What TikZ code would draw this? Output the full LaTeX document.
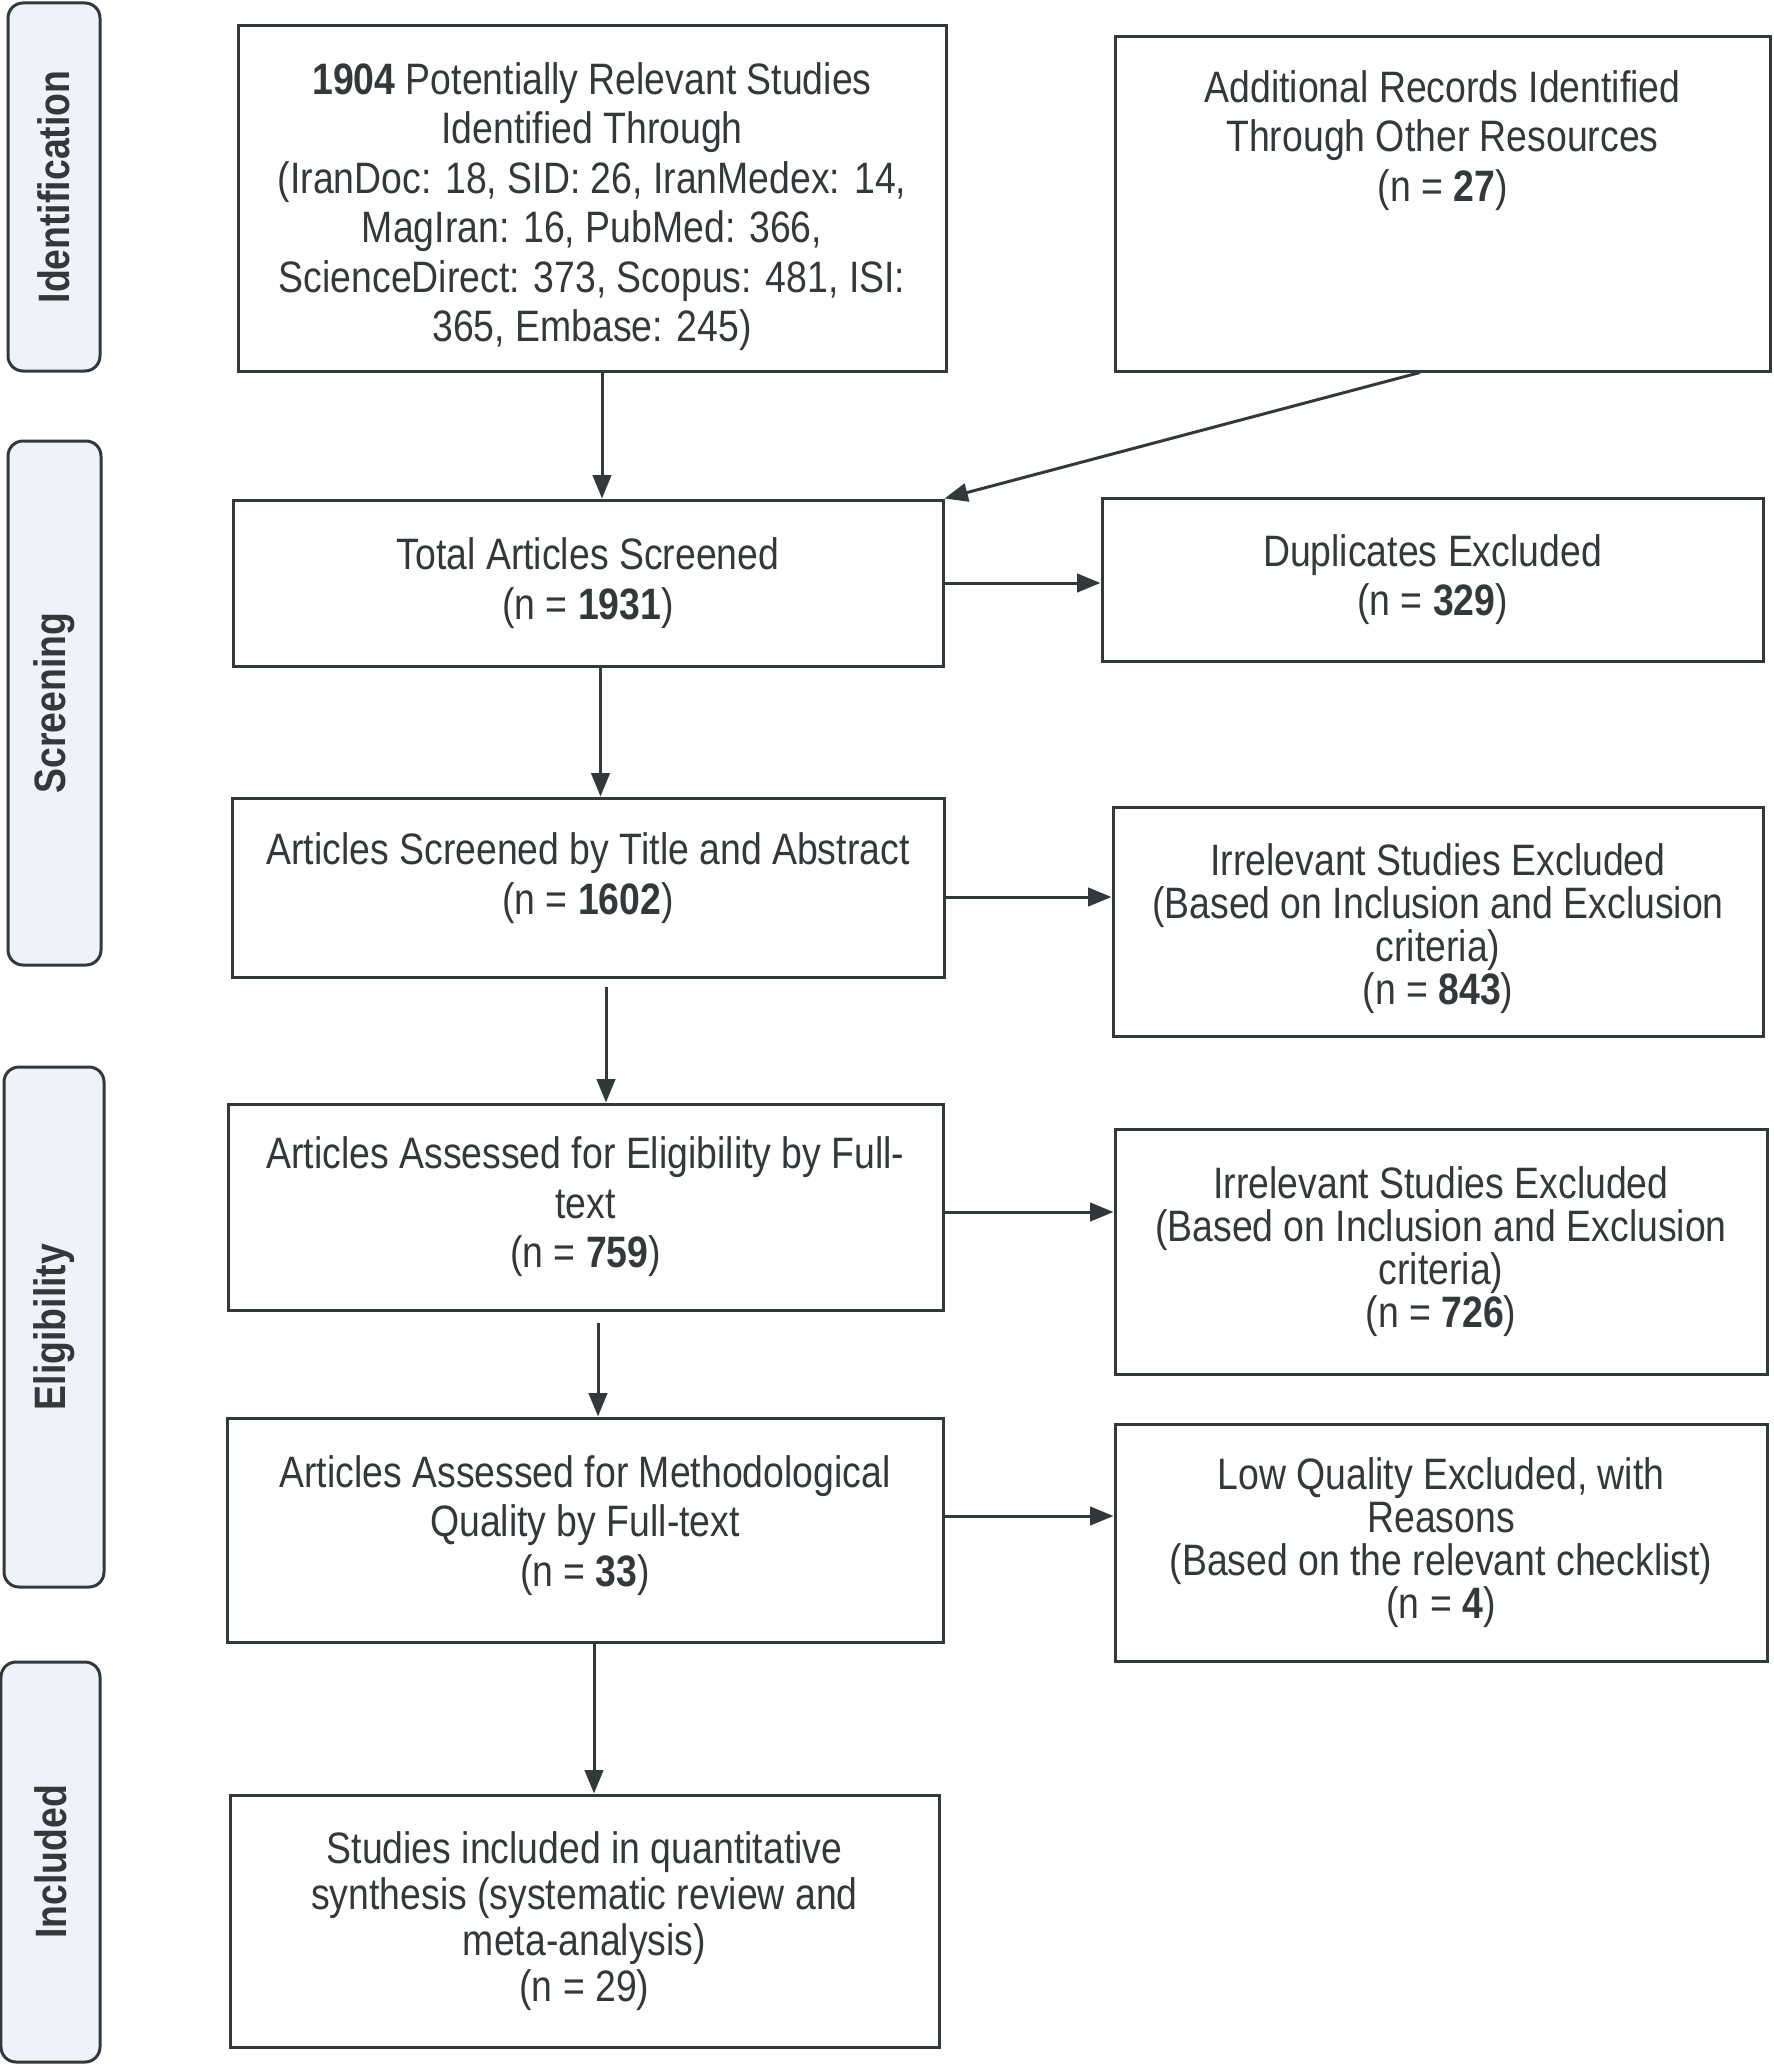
\documentclass[tikz,border=0pt]{standalone}
\usepackage{fontspec}
\setmainfont{Liberation Sans}[FakeStretch=0.85]
\usetikzlibrary{arrows.meta, positioning}
\definecolor{ink}{RGB}{51,56,58}
\definecolor{paleblue}{RGB}{238,243,250}

\tikzset{
  wh/.style 2 args={minimum width=#1*0.3pt, minimum height=#2*0.3pt},
  box/.style={draw=ink, line width=0.9pt, align=center, text=ink, inner sep=0pt},
  tight/.style={font=\fontsize{13.2}{12.9}\selectfont},
  phase/.style={draw=ink, line width=0.9pt, fill=paleblue, rounded corners=4.5pt, rotate=90, text=ink, font=\fontsize{13.2}{14.4}\selectfont\bfseries},
  arr/.style={draw=ink, line width=0.9pt, -{Triangle[length=7pt, width=5.5pt]}}
}

\begin{document}
\begin{tikzpicture}[x=0.3pt, y=-0.3pt, font=\fontsize{13.2}{14.85}\selectfont]
\useasboundingbox (0,0) rectangle (1773,2066);

% Phase labels on the left
\node[phase, wh={368}{92}] (idph) at (54,187) {Identification};
\node[phase, wh={524}{93}] (scph) at (54.5,703) {Screening};
\node[phase, wh={520}{100}] (elph) at (54,1327) {Eligibility};
\node[phase, wh={400}{99}] (inph) at (50.5,1862) {Included};

% Identification
\node[box, wh={708}{345}] (search) at (592,198.5) {\rule{0pt}{14.4pt}\textbf{1904} Potentially Relevant Studies\\ Identified Through\\ (IranDoc: 18, SID: 26, IranMedex: 14,\\ MagIran: 16, PubMed: 366,\\ ScienceDirect: 373, Scopus: 481, ISI:\\ 365, Embase: 245)};
\node[box, wh={655}{334}] (other) at (1442.5,204) {};
\node[align=center, text=ink] (othertext) at ([yshift=-31.4pt]other.north) {Additional Records Identified\\ Through Other Resources\\ (n = \textbf{27})};

% Screening
\node[box, wh={710}{166}] (total) at (588,583) {Total Articles Screened\\ (n = \textbf{1931})};
\node[box, wh={661}{163}] (dup) at (1432.5,579.5) {Duplicates Excluded\\ (n = \textbf{329})};
\node[box, wh={712}{179}] (title) at (588,887.5) {Articles Screened by Title and Abstract\\ (n = \textbf{1602})\rule[-8.4pt]{0pt}{0pt}};
\node[box, tight, wh={650}{229}] (irrA) at (1438,921.5) {\rule{0pt}{13.6pt}Irrelevant Studies Excluded\\ (Based on Inclusion and Exclusion\\ criteria)\\ (n = \textbf{843})};

% Eligibility
\node[box, wh={715}{206}] (full) at (585.5,1207) {Articles Assessed for Eligibility by Full-\\ text\\ (n = \textbf{759})};
\node[box, tight, wh={652}{245}] (irrB) at (1441,1251.5) {Irrelevant Studies Excluded\\ (Based on Inclusion and Exclusion\\ criteria)\\ (n = \textbf{726})};
\node[box, wh={716}{224}] (quality) at (585,1530) {Articles Assessed for Methodological\\ Quality by Full-text\\ (n = \textbf{33})\rule[-5.6pt]{0pt}{0pt}};
\node[box, tight, wh={652}{237}] (lowq) at (1441,1542.5) {Low Quality Excluded, with\\ Reasons\\ (Based on the relevant checklist)\\ (n = \textbf{4})};

% Included
\node[box, font=\fontsize{13.2}{13.8}\selectfont, wh={709}{252}] (incl) at (584.5,1921) {Studies included in quantitative\\ synthesis (systematic review and\\ meta-analysis)\\ (n = 29)};

% Arrows
\coordinate (a1) at ([xshift=3pt]search.south);
\draw[arr] (a1) -- (a1 |- total.north);
\draw[arr] ([xshift=-6.75pt]other.south) -- (total.north east);
\draw[arr] (total.east) -- (total.east -| dup.west);
\coordinate (a2) at ([xshift=3.75pt]total.south);
\draw[arr] (a2) -- (a2 |- title.north);
\coordinate (a3) at ([yshift=-2.85pt]title.east);
\draw[arr] (a3) -- (a3 -| irrA.west);
\coordinate (a4) at ([xshift=5.4pt, yshift=-2.4pt]title.south);
\draw[arr] (a4) -- (a4 |- full.north);
\coordinate (a5) at ([yshift=-1.5pt]full.east);
\draw[arr] (a5) -- (a5 -| irrB.west);
\coordinate (a6) at ([xshift=3.75pt, yshift=-3.3pt]full.south);
\draw[arr] (a6) -- (a6 |- quality.north);
\coordinate (a7) at ([yshift=4.2pt]quality.east);
\draw[arr] (a7) -- (a7 -| lowq.west);
\coordinate (a8) at ([xshift=2.7pt]quality.south);
\draw[arr] (a8) -- (a8 |- incl.north);

\end{tikzpicture}
\end{document}
